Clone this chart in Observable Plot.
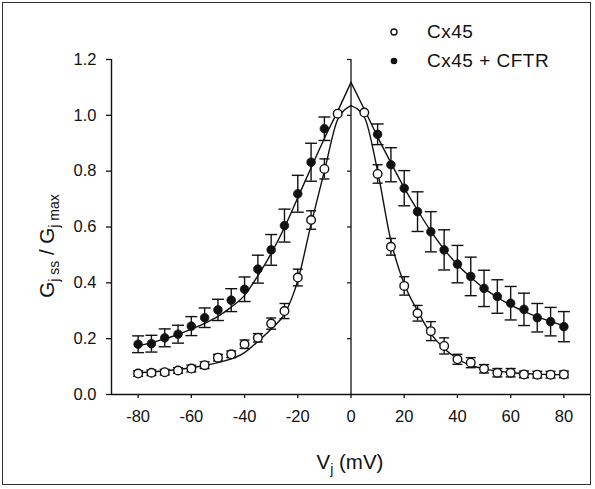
<!DOCTYPE html>
<html>
<head>
<meta charset="utf-8">
<script src="https://cdn.jsdelivr.net/npm/d3@7"></script>
<script src="https://cdn.jsdelivr.net/npm/@observablehq/plot@0.6"></script>
<style>
  html, body { margin: 0; padding: 0; background: #fff; }
  #wrap { position: relative; width: 595px; height: 489px; overflow: hidden; background: #fff;
          font-family: "Liberation Sans", Arial, Helvetica, sans-serif; color: #111; }
  #frame { position: absolute; left: 2px; top: 2px; width: 589px; height: 483px; border: 1.5px solid #333; box-sizing: border-box; pointer-events: none; }
  #chart { position: absolute; left: 0; top: 0; }
  .leg { position: absolute; left: 0; top: 0; width: 595px; height: 100px; pointer-events: none; }
  .leg .row { position: absolute; left: 386px; display: flex; align-items: center; height: 20px; }
  .leg .row span { font-size: 19px; margin-left: 25px; letter-spacing: 0.5px; white-space: pre; }
</style>
</head>
<body>
<div id="wrap">
  <div id="chart"></div>
  <div class="leg">
    <div class="row" style="top:22px"><svg width="16" height="16"><circle cx="8" cy="8" r="3" fill="#fff" stroke="#111" stroke-width="1.4"/></svg><span>Cx45</span></div>
    <div class="row" style="top:51px"><svg width="16" height="16"><circle cx="8" cy="8" r="3.3" fill="#111"/></svg><span>Cx45 + CFTR</span></div>
  </div>
  <div id="frame"></div>
</div>
<script>
// ---- Data ----
const xTicks = [-80, -60, -40, -20, 0, 20, 40, 60, 80];
const yTicks = [0, 0.2, 0.4, 0.6, 0.8, 1.0, 1.2];

// Cx45 (open circles)
const cx45V   = [-80,-75,-70,-65,-60,-55,-50,-45,-40,-35,-30,-25,-20,-15,-10,-5, 5,10,15,20,25,30,35,40,45,50,55,60,65,70,75,80];
const cx45G   = [0.075,0.078,0.080,0.086,0.093,0.105,0.132,0.144,0.180,0.203,0.254,0.299,0.419,0.625,0.808,1.006,
                 1.010,0.790,0.529,0.389,0.291,0.227,0.174,0.126,0.114,0.092,0.078,0.078,0.072,0.071,0.071,0.072];
const cx45Err = [0.010,0.010,0.010,0.010,0.012,0.012,0.012,0.012,0.015,0.015,0.020,0.027,0.030,0.033,0.036,0.000,
                 0.000,0.033,0.030,0.033,0.028,0.034,0.029,0.018,0.018,0.015,0.015,0.015,0.012,0.012,0.012,0.012];

// Cx45 + CFTR (filled circles)
const cftrV   = [-80,-75,-70,-65,-60,-55,-50,-45,-40,-35,-30,-25,-20,-15,-10, 10,15,20,25,30,35,40,45,50,55,60,65,70,75,80];
const cftrG   = [0.180,0.182,0.203,0.216,0.245,0.275,0.303,0.338,0.377,0.449,0.518,0.605,0.719,0.832,0.952,
                 0.932,0.823,0.739,0.655,0.583,0.518,0.467,0.423,0.380,0.351,0.327,0.305,0.275,0.261,0.243];
const cftrErr = [0.030,0.030,0.032,0.032,0.034,0.035,0.038,0.041,0.044,0.050,0.055,0.059,0.066,0.068,0.042,
                 0.037,0.061,0.063,0.071,0.072,0.072,0.067,0.069,0.065,0.060,0.060,0.058,0.051,0.051,0.054];

// Fitted curves, one branch per polarity
const cx45FitLeftV  = [-80,-70,-60,-50,-40,-35,-30,-25,-20,-15,-10,-5,0];
const cx45FitLeftG  = [0.078,0.085,0.096,0.114,0.150,0.190,0.235,0.288,0.408,0.610,0.800,0.985,1.035];
const cx45FitRightV = [0,5,10,15,20,25,30,35,40,45,50,60,70,80];
const cx45FitRightG = [1.035,0.994,0.800,0.550,0.396,0.300,0.218,0.165,0.128,0.104,0.092,0.079,0.073,0.071];
const cftrFitLeftV  = [-80,-75,-70,-65,-60,-55,-50,-45,-40,-35,-30,-25,-20,-15,-10,-5,0];
const cftrFitLeftG  = [0.174,0.186,0.199,0.215,0.234,0.255,0.280,0.313,0.355,0.425,0.505,0.598,0.705,0.812,0.917,1.015,1.118];
const cftrFitRightV = [0,5,10,15,20,25,30,35,40,45,50,55,60,65,70,75,80];
const cftrFitRightG = [1.118,1.022,0.923,0.830,0.740,0.660,0.585,0.520,0.465,0.420,0.380,0.348,0.320,0.298,0.278,0.262,0.246];

// ---- Build tables ----
const pts = (V, G, E) => V.map((v, i) => ({v, g: G[i], e: E[i]}));
const cx45 = pts(cx45V, cx45G, cx45Err);
const cftr = pts(cftrV, cftrG, cftrErr);
const fit = (V, G, side) => V.map((v, i) => ({v, g: G[i], side}));
const fitCx45 = [...fit(cx45FitLeftV, cx45FitLeftG, "L"), ...fit(cx45FitRightV, cx45FitRightG, "R")];
const fitCftr = [...fit(cftrFitLeftV, cftrFitLeftG, "L"), ...fit(cftrFitRightV, cftrFitRightG, "R")];

// custom symbols: error-bar cap and a left-pointing tick
const capSymbol = { draw(ctx, size) { const w = Math.sqrt(size / Math.PI); ctx.moveTo(-w, 0); ctx.lineTo(w, 0); } };
const leftTick  = { draw(ctx, size) { const w = Math.sqrt(size / Math.PI); ctx.moveTo(-w, 0); ctx.lineTo(0, 0); } };

const ink = "#111";
const withErr = d => d.filter(p => p.e > 0);

const chart = Plot.plot({
  width: 595,
  height: 489,
  marginLeft: 111,
  marginRight: 5,
  marginTop: 59,
  marginBottom: 95,
  style: { fontFamily: "'Liberation Sans', Arial, Helvetica, sans-serif", fontSize: "16px", color: ink, background: "transparent", overflow: "visible" },
  x: { domain: [-90, 90] },
  y: { domain: [0, 1.2] },
  marks: [
    Plot.axisX({ ticks: xTicks, tickSize: 4, tickPadding: 12, tickFormat: d => String(d), label: null, fontSize: 16.5, stroke: ink, strokeWidth: 1.3 }),
    Plot.axisY({ ticks: yTicks, tickSize: 5, tickPadding: 10, tickFormat: d => d.toFixed(1), label: null, fontSize: 16.5, stroke: ink, strokeWidth: 1.3 }),
    Plot.ruleY([0], { stroke: ink, strokeWidth: 1.4 }),
    Plot.ruleX([-90], { stroke: ink, strokeWidth: 1.4 }),
    Plot.ruleX([0], { stroke: ink, strokeWidth: 1.3 }),
    Plot.dot(yTicks.filter(t => t > 0), { x: 0, y: d => d, symbol: leftTick, r: 4, stroke: ink, strokeWidth: 1.2 }),
    // fitted curves
    Plot.line(fitCx45, { x: "v", y: "g", z: "side", curve: "monotone-x", stroke: ink, strokeWidth: 1.4 }),
    Plot.line(fitCftr, { x: "v", y: "g", z: "side", curve: "monotone-x", stroke: ink, strokeWidth: 1.4 }),
    // error bars
    Plot.ruleX(cftr, { x: "v", y1: d => d.g - d.e, y2: d => d.g + d.e, stroke: ink, strokeWidth: 1.4 }),
    Plot.dot(cftr, { x: "v", y: d => d.g + d.e, symbol: capSymbol, r: 6, stroke: ink, strokeWidth: 1.4 }),
    Plot.dot(cftr, { x: "v", y: d => d.g - d.e, symbol: capSymbol, r: 6, stroke: ink, strokeWidth: 1.4 }),
    Plot.ruleX(withErr(cx45), { x: "v", y1: d => d.g - d.e, y2: d => d.g + d.e, stroke: ink, strokeWidth: 1.4 }),
    Plot.dot(withErr(cx45), { x: "v", y: d => d.g + d.e, symbol: capSymbol, r: 5, stroke: ink, strokeWidth: 1.4 }),
    Plot.dot(withErr(cx45), { x: "v", y: d => d.g - d.e, symbol: capSymbol, r: 5, stroke: ink, strokeWidth: 1.4 }),
    // data points
    Plot.dot(cftr, { x: "v", y: "g", r: 4.3, fill: ink, stroke: ink, strokeWidth: 0.8 }),
    Plot.dot(cx45, { x: "v", y: "g", r: 4.3, fill: "#fff", stroke: ink, strokeWidth: 1.4 })
  ]
});
document.getElementById("chart").appendChild(chart);

// Axis titles with subscripts
const svg = d3.select(chart);
const ff = "'Liberation Sans', Arial, Helvetica, sans-serif";
const yl = svg.append("text")
  .attr("transform", "translate(54,246) rotate(-90)")
  .attr("text-anchor", "middle")
  .attr("font-family", ff).attr("font-size", 20.5).attr("fill", ink);
yl.append("tspan").text("G");
yl.append("tspan").attr("dy", 5).attr("font-size", 14).text("j ss");
yl.append("tspan").attr("dy", -5).text(" / G");
yl.append("tspan").attr("dy", 5).attr("font-size", 14).text("j max");

const xl = svg.append("text")
  .attr("x", 350).attr("y", 469)
  .attr("text-anchor", "middle")
  .attr("font-family", ff).attr("font-size", 20.5).attr("fill", ink);
xl.append("tspan").text("V");
xl.append("tspan").attr("dy", 5).attr("font-size", 14).text("j");
xl.append("tspan").attr("dy", -5).text(" (mV)");
</script>
</body>
</html>
